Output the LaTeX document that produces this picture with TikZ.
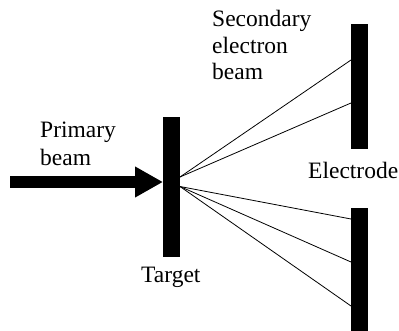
\documentclass[tikz,border=0pt]{standalone}
\usepackage{fontspec}
\setmainfont{Liberation Serif}
\usetikzlibrary{arrows.meta}
\tikzset{
  bar/.style={fill=black,draw=none,inner sep=0pt,outer sep=0pt,minimum width=17pt},
  ray/.style={draw=black,line width=0.8pt},
  beam/.style={draw=black,line width=12pt,-{Triangle[length=28pt,width=29pt]}},
  lbl/.style={inner sep=0pt,anchor=base west,font=\fontsize{23.5pt}{27pt}\selectfont}
}
\begin{document}
\begin{tikzpicture}[x=1pt,y=-1pt]
\useasboundingbox (0,0) rectangle (399,331);
\node[bar,minimum height=140pt] (target) at (171.5,187) {};
\node[bar,minimum height=125pt] (top) at (359.5,86.5) {};
\node[bar,minimum height=123pt] (bottom) at (359.5,269.5) {};
\coordinate (start) at (10,182);
\coordinate (hit) at (163,182);
\coordinate (up) at (180,177);
\coordinate (down) at (180,186.5);
\coordinate (t1) at (351,60);
\coordinate (t2) at (351,103);
\coordinate (b1) at (351,219);
\coordinate (b2) at (351,262);
\coordinate (b3) at (351,306);
\draw[beam] (start) -- (hit);
\draw[ray] (up) -- (t1);
\draw[ray] (up) -- (t2);
\draw[ray] (down) -- (b1);
\draw[ray] (down) -- (b2);
\draw[ray] (down) -- (b3);
\node[lbl] (primary) at (40,138) {Primary};
\node[lbl] (beamword) at (40,166) {beam};
\node[lbl] (sec1) at (212,27) {Secondary};
\node[lbl] (sec2) at (212,54) {electron};
\node[lbl] (sec3) at (212,80) {beam};
\node[lbl] (elec) at (308,179) {Electrode};
\node[lbl] (targ) at (141,282) {Target};
\end{tikzpicture}
\end{document}
